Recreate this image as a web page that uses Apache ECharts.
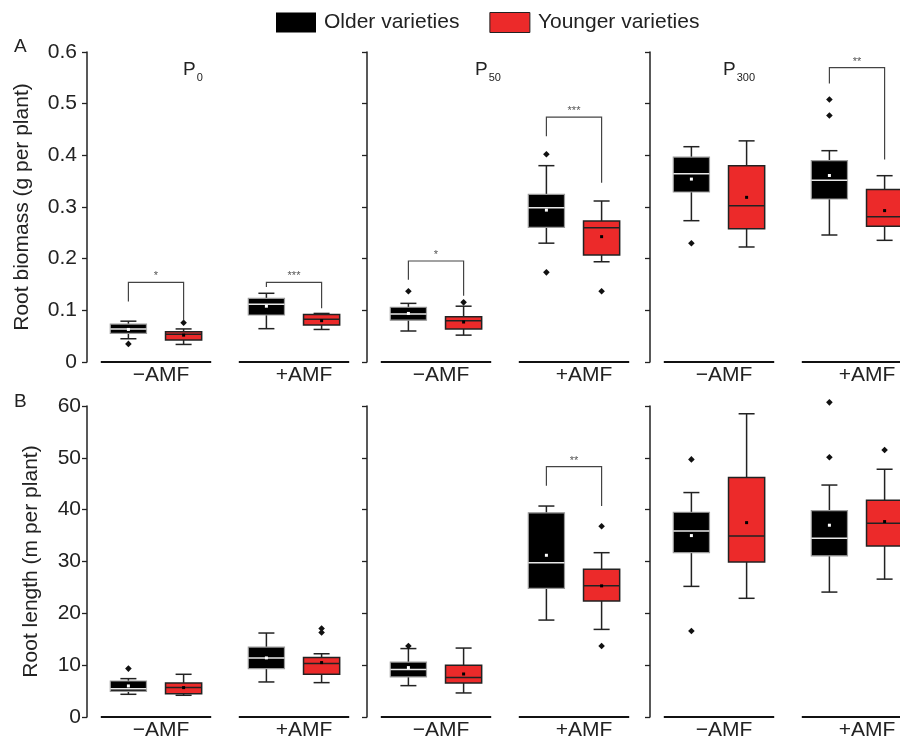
<!DOCTYPE html>
<html>
<head>
<meta charset="utf-8">
<script src="https://cdn.jsdelivr.net/npm/echarts@6/dist/echarts.min.js"></script>
<style>html,body{margin:0;padding:0;background:#fff;}#chart{width:900px;height:740px;}</style>
</head>
<body>
<div id="chart"></div>
<script>
// ---------- DATA ----------
const categories = ['−AMF', '+AMF'];
const seriesNames = ['Older varieties', 'Younger varieties'];
const panelSubscripts = ['0', '50', '300'];
const biomassTicks = [0, 0.6, 0.1];   // min, max, interval
const lengthTicks = [0, 60, 10];

// boxes: [whiskerLow, Q1, median, Q3, whiskerHigh] for −AMF, +AMF
// Root biomass (g per plant)
const biomassP0Older = [[0.045, 0.0555, 0.064, 0.0735, 0.079], [0.0645, 0.091, 0.112, 0.123, 0.133]];
const biomassP0OlderMean = [0.063, 0.108];
const biomassP0OlderOut = [[0, 0.035]];
const biomassP0Younger = [[0.034, 0.0426, 0.0535, 0.0587, 0.064], [0.063, 0.0716, 0.0826, 0.092, 0.094]];
const biomassP0YoungerMean = [0.052, 0.080];
const biomassP0YoungerOut = [[0, 0.076]];

const biomassP50Older = [[0.060, 0.081, 0.093, 0.106, 0.1135], [0.230, 0.2606, 0.2987, 0.3245, 0.380]];
const biomassP50OlderMean = [0.094, 0.294];
const biomassP50OlderOut = [[0, 0.137], [1, 0.402], [1, 0.1735]];
const biomassP50Younger = [[0.052, 0.064, 0.080, 0.0877, 0.108], [0.194, 0.207, 0.260, 0.273, 0.3116]];
const biomassP50YoungerMean = [0.0774, 0.2426];
const biomassP50YoungerOut = [[0, 0.1155], [1, 0.137]];

const biomassP300Older = [[0.2735, 0.329, 0.3644, 0.3967, 0.4167], [0.2458, 0.3155, 0.352, 0.3896, 0.409]];
const biomassP300OlderMean = [0.354, 0.361];
const biomassP300OlderOut = [[0, 0.2297], [1, 0.508], [1, 0.477]];
const biomassP300Younger = [[0.2226, 0.258, 0.3025, 0.380, 0.428], [0.2355, 0.2626, 0.281, 0.334, 0.3606]];
const biomassP300YoungerMean = [0.3187, 0.293];
const biomassP300YoungerOut = [];

// Root length (m per plant)
const lengthP0Older = [[4.38, 4.96, 5.47, 6.95, 7.4], [6.76, 9.34, 11.4, 13.5, 16.2]];
const lengthP0OlderMean = [5.99, 11.4];
const lengthP0OlderOut = [[0, 9.34]];
const lengthP0Younger = [[4.19, 4.5, 5.67, 6.57, 8.24], [6.63, 8.24, 10.3, 11.46, 12.2]];
const lengthP0YoungerMean = [5.67, 10.5];
const lengthP0YoungerOut = [[1, 17.06], [1, 16.3]];

const lengthP50Older = [[6.05, 7.73, 9.14, 10.6, 13.2], [18.7, 24.8, 29.75, 39.4, 40.7]];
const lengthP50OlderMean = [9.53, 31.2];
const lengthP50OlderOut = [[0, 13.7]];
const lengthP50Younger = [[4.64, 6.57, 7.6, 9.98, 13.3], [16.9, 22.4, 25.3, 28.5, 31.7]];
const lengthP50YoungerMean = [8.3, 25.3];
const lengthP50YoungerOut = [[1, 36.8], [1, 13.7]];

const lengthP300Older = [[25.2, 31.7, 35.9, 39.5, 43.3], [24.1, 31.1, 34.5, 39.8, 44.75]];
const lengthP300OlderMean = [35.0, 37.0];
const lengthP300OlderOut = [[0, 49.7], [0, 16.6], [1, 60.7], [1, 50.1]];
const lengthP300Younger = [[22.9, 29.9, 34.9, 46.2, 58.5], [26.6, 33.0, 37.4, 41.8, 47.8]];
const lengthP300YoungerMean = [37.5, 37.7];
const lengthP300YoungerOut = [[1, 51.5]];

// significance brackets: [category, leftLegBottom, rightLegBottom, top]
const biomassP0Brackets = [[0, 0.117, 0.081, 0.154], [1, 0.145, 0.104, 0.154]];
const biomassP0Stars = ['*', '***'];
const biomassP50Brackets = [[0, 0.159, 0.128, 0.1955], [1, 0.437, 0.347, 0.474]];
const biomassP50Stars = ['*', '***'];
const biomassP300Brackets = [[1, 0.539, 0.392, 0.5696]];
const biomassP300Stars = ['**'];
const lengthP0Brackets = [];
const lengthP0Stars = [];
const lengthP50Brackets = [[1, 44.6, 40.7, 48.3]];
const lengthP50Stars = ['**'];
const lengthP300Brackets = [];
const lengthP300Stars = [];

// ---------- BUILD ----------
const FONT = '"Liberation Sans", Arial, Helvetica, sans-serif';
const TXT = '#222';
const RED = '#ec2a2a';
const OFF = 0.2;

const panels = [
  [biomassP0Older, biomassP0OlderMean, biomassP0OlderOut, biomassP0Younger, biomassP0YoungerMean, biomassP0YoungerOut, biomassP0Brackets, biomassP0Stars],
  [biomassP50Older, biomassP50OlderMean, biomassP50OlderOut, biomassP50Younger, biomassP50YoungerMean, biomassP50YoungerOut, biomassP50Brackets, biomassP50Stars],
  [biomassP300Older, biomassP300OlderMean, biomassP300OlderOut, biomassP300Younger, biomassP300YoungerMean, biomassP300YoungerOut, biomassP300Brackets, biomassP300Stars],
  [lengthP0Older, lengthP0OlderMean, lengthP0OlderOut, lengthP0Younger, lengthP0YoungerMean, lengthP0YoungerOut, lengthP0Brackets, lengthP0Stars],
  [lengthP50Older, lengthP50OlderMean, lengthP50OlderOut, lengthP50Younger, lengthP50YoungerMean, lengthP50YoungerOut, lengthP50Brackets, lengthP50Stars],
  [lengthP300Older, lengthP300OlderMean, lengthP300OlderOut, lengthP300Younger, lengthP300YoungerMean, lengthP300YoungerOut, lengthP300Brackets, lengthP300Stars]
];

const gridLefts = [87, 367, 650];
const rowTops = [52, 406];
const rowHeights = [310, 311];

function boxRender(off, older) {
  return function (params, api) {
    const cat = api.value(0);
    const band = api.size([1, 0])[0];
    const cx = api.coord([cat, 0])[0] + off * band;
    const y = i => api.coord([cat, api.value(i)])[1];
    const yLow = y(1), yQ1 = y(2), yMed = y(3), yQ3 = y(4), yHigh = y(5), yMean = y(6);
    const bw = band * 0.262, cw = band * 0.116;
    const wk = { stroke: '#222', lineWidth: 1.5 };
    return {
      type: 'group',
      children: [
        { type: 'line', shape: { x1: cx, y1: yQ1, x2: cx, y2: yLow }, style: wk },
        { type: 'line', shape: { x1: cx, y1: yQ3, x2: cx, y2: yHigh }, style: wk },
        { type: 'line', shape: { x1: cx - cw / 2, y1: yLow, x2: cx + cw / 2, y2: yLow }, style: wk },
        { type: 'line', shape: { x1: cx - cw / 2, y1: yHigh, x2: cx + cw / 2, y2: yHigh }, style: wk },
        { type: 'rect', shape: { x: cx - bw / 2, y: yQ3, width: bw, height: yQ1 - yQ3 },
          style: older ? { fill: '#000', stroke: '#9a9a9a', lineWidth: 1.2 } : { fill: RED, stroke: '#222', lineWidth: 1.5 } },
        { type: 'line', shape: { x1: cx - bw / 2, y1: yMed, x2: cx + bw / 2, y2: yMed },
          style: { stroke: older ? '#e8e8e8' : '#222', lineWidth: 1.5 } },
        { type: 'rect', shape: { x: cx - 1.5, y: yMean - 1.5, width: 3, height: 3 },
          style: { fill: older ? '#fff' : '#000' } }
      ]
    };
  };
}

function outRender(off) {
  return function (params, api) {
    const cat = api.value(0);
    const band = api.size([1, 0])[0];
    const p = api.coord([cat, api.value(1)]);
    const x = p[0] + off * band, yy = p[1], r = 3.3;
    return { type: 'polygon', shape: { points: [[x, yy - r], [x + r, yy], [x, yy + r], [x - r, yy]] }, style: { fill: '#111' } };
  };
}

const grid = [], xAxis = [], yAxis = [], series = [], title = [];
panels.forEach((pd, k) => {
  const row = Math.floor(k / 3), col = k % 3;
  const ticks = row === 0 ? biomassTicks : lengthTicks;
  grid.push({ left: gridLefts[col], top: rowTops[row], width: 276, height: rowHeights[row], outerBoundsMode: 'none', containLabel: false });
  xAxis.push({
    gridIndex: k, type: 'category', data: categories,
    axisLine: { show: false }, axisTick: { show: false }, splitLine: { show: false },
    axisLabel: {
      margin: 3, color: TXT, fontSize: 21, fontFamily: FONT,
      formatter: (v, i) => (i === 0 ? '{a|' + v + '}' : '{b|' + v + '}'),
      rich: {
        a: { padding: [0, 0, 0, 10], fontSize: 21, fontFamily: FONT, color: TXT },
        b: { padding: [0, 0, 0, 20], fontSize: 21, fontFamily: FONT, color: TXT }
      }
    }
  });
  yAxis.push({
    gridIndex: k, type: 'value', min: ticks[0], max: ticks[1], interval: ticks[2],
    axisLine: { show: true, lineStyle: { color: '#222', width: 1.5 } },
    axisTick: { show: true, inside: false, length: 5, lineStyle: { color: '#222', width: 1.3 } },
    splitLine: { show: false },
    axisLabel: { show: col === 0, margin: row === 0 ? 10 : 6, color: TXT, fontSize: 21, fontFamily: FONT },
    name: col === 0 ? (row === 0 ? 'Root biomass (g per plant)' : 'Root length (m per plant)') : '',
    nameLocation: 'middle', nameRotate: 90, nameGap: row === 0 ? 54 : 45,
    nameTextStyle: { color: TXT, fontSize: 21, fontFamily: FONT }
  });

  const [o, om, oo, y, ym, yo, br, st] = pd;
  series.push({
    name: seriesNames[0], type: 'custom', xAxisIndex: k, yAxisIndex: k,
    itemStyle: { color: '#000' }, renderItem: boxRender(-OFF, true),
    encode: { x: 0, y: [1, 2, 3, 4, 5, 6] },
    data: o.map((b, i) => [i].concat(b, [om[i]]))
  });
  series.push({
    name: seriesNames[1], type: 'custom', xAxisIndex: k, yAxisIndex: k,
    itemStyle: { color: RED }, renderItem: boxRender(OFF, false),
    encode: { x: 0, y: [1, 2, 3, 4, 5, 6] },
    data: y.map((b, i) => [i].concat(b, [ym[i]]))
  });
  series.push({
    name: seriesNames[0], type: 'custom', xAxisIndex: k, yAxisIndex: k, clip: false,
    itemStyle: { color: '#000' }, renderItem: outRender(-OFF), encode: { x: 0, y: 1 }, data: oo
  });
  series.push({
    name: seriesNames[1], type: 'custom', xAxisIndex: k, yAxisIndex: k, clip: false,
    itemStyle: { color: RED }, renderItem: outRender(OFF), encode: { x: 0, y: 1 }, data: yo
  });
  // group baselines
  series.push({
    type: 'custom', xAxisIndex: k, yAxisIndex: k, silent: true,
    renderItem: function (params, api) {
      const cat = api.value(0);
      const band = api.size([1, 0])[0];
      const p = api.coord([cat, ticks[0]]);
      return { type: 'line', shape: { x1: p[0] - 0.4 * band, y1: p[1], x2: p[0] + 0.4 * band, y2: p[1] }, style: { stroke: '#111', lineWidth: 2 } };
    },
    encode: { x: 0, y: 1 }, data: categories.map((c, i) => [i, ticks[0]])
  });
  // brackets
  series.push({
    type: 'custom', xAxisIndex: k, yAxisIndex: k, silent: true,
    renderItem: function (params, api) {
      const cat = api.value(0);
      const band = api.size([1, 0])[0];
      const cx = api.coord([cat, 0])[0];
      const x1 = cx - OFF * band, x2 = cx + OFF * band;
      const yl = api.coord([cat, api.value(1)])[1];
      const yr = api.coord([cat, api.value(2)])[1];
      const yt = api.coord([cat, api.value(3)])[1];
      return {
        type: 'group', children: [
          { type: 'polyline', shape: { points: [[x1, yl], [x1, yt], [x2, yt], [x2, yr]] }, style: { stroke: '#444', lineWidth: 1.2, fill: null } },
          { type: 'text', x: cx, y: yt - 6, style: { text: st[params.dataIndex], fill: '#555', fontSize: 11, fontFamily: FONT, align: 'center', verticalAlign: 'middle' } }
        ]
      };
    },
    encode: { x: 0, y: [1, 2, 3] }, data: br
  });

  if (row === 0) {
    const titleLefts = [183, 475, 723];
    title.push({
      left: titleLefts[col], top: 57, padding: 0,
      text: '{p|P}{s|' + panelSubscripts[col] + '}',
      textStyle: {
        fontWeight: 'normal',
        rich: {
          p: { fontSize: 19, lineHeight: 26, color: TXT, fontFamily: FONT, fontWeight: 'normal' },
          s: { fontSize: 11, lineHeight: 11, verticalAlign: 'bottom', color: TXT, fontFamily: FONT, fontWeight: 'normal', padding: [0, 0, 0, 1] }
        }
      }
    });
  }
});
title.push({ left: 14, top: 37, padding: 0, text: 'A', textStyle: { fontSize: 19, fontWeight: 'normal', color: TXT, fontFamily: FONT } });
title.push({ left: 14, top: 392, padding: 0, text: 'B', textStyle: { fontSize: 19, fontWeight: 'normal', color: TXT, fontFamily: FONT } });

const chart = echarts.init(document.getElementById('chart'), null, { renderer: 'canvas' });
chart.setOption({
  animation: false,
  backgroundColor: '#fff',
  title: title,
  legend: {
    left: 276, top: 12, padding: 0, itemWidth: 40, itemHeight: 20, itemGap: 30,
    textStyle: { fontSize: 21, color: TXT, fontFamily: FONT, padding: [0, 0, 0, 3] },
    data: [
      { name: seriesNames[0], icon: 'rect', itemStyle: { color: '#000', borderWidth: 0 } },
      { name: seriesNames[1], icon: 'rect', itemStyle: { color: RED, borderColor: '#222', borderWidth: 1 } }
    ]
  },
  grid: grid, xAxis: xAxis, yAxis: yAxis, series: series
});
</script>
</body>
</html>
